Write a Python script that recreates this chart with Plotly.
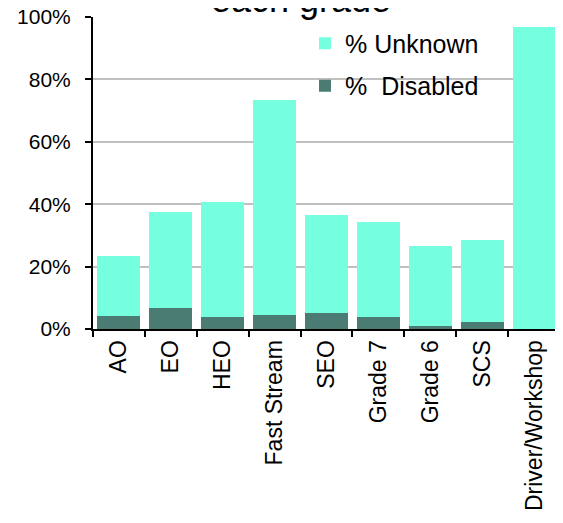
import plotly.graph_objects as go

grades = ["AO", "EO", "HEO", "Fast Stream", "SEO", "Grade 7", "Grade 6", "SCS", "Driver/Workshop"]
pct_disabled = [4.2, 6.7, 3.8, 4.5, 5.1, 3.8, 1.0, 2.2, 0.0]
pct_total = [23.4, 37.5, 40.7, 73.4, 36.5, 34.3, 26.6, 28.5, 96.8]
# unknown share stacked on top of the disabled share
pct_unknown = [round(t - d, 1) for t, d in zip(pct_total, pct_disabled)]

y_ticks = [0, 20, 40, 60, 80, 100]
y_labels = [f"{v}%" for v in y_ticks]

FONT = "Liberation Sans, Arial, sans-serif"

# page body has an 8px margin, so the figure is sized to fit the window
fig = go.Figure()
fig.add_bar(
    x=grades, y=pct_disabled, name="%\u00a0 Disabled",
    marker_color="#4A7C73", marker_line_width=0,
    legendgroup="d", legendrank=2,
)
fig.add_bar(
    x=grades, y=pct_unknown, name="% Unknown",
    marker_color="#76FFDF", marker_line_width=0,
    legendgroup="u", legendrank=1,
)

fig.update_layout(
    width=555, height=515,
    barmode="stack", bargap=0.17,
    plot_bgcolor="white", paper_bgcolor="white",
    margin=dict(l=85, r=3, t=9, b=194),
    font=dict(family=FONT, color="black"),
    showlegend=True,
    legend=dict(
        x=0.454, y=0.989, xanchor="left", yanchor="top",
        bgcolor="rgba(0,0,0,0)", font=dict(size=25),
        traceorder="grouped", tracegroupgap=7,
    ),
    annotations=[dict(
        text="each grade", xref="paper", yref="paper",
        x=0.445, y=0.984, xanchor="center", yanchor="bottom",
        showarrow=False, font=dict(size=36),
    )],
)
fig.update_xaxes(
    showline=True, linecolor="black", linewidth=2,
    ticks="outside", ticklen=6, tickwidth=2, tickcolor="black",
    tickson="boundaries", tickangle=-90, tickfont=dict(size=23),
    showgrid=False, automargin=False,
)
fig.update_yaxes(
    range=[0, 100], tickvals=y_ticks, ticktext=y_labels,
    showline=True, linecolor="black", linewidth=2,
    ticks="outside", ticklen=6, tickwidth=2, tickcolor="black",
    tickfont=dict(size=21), ticklabeloverflow="allow", automargin=False,
    ticklabelstandoff=10,
    showgrid=True, gridcolor="#C0C0C0", gridwidth=1.5,
    zeroline=False,
)

fig.write_html("out.html")
